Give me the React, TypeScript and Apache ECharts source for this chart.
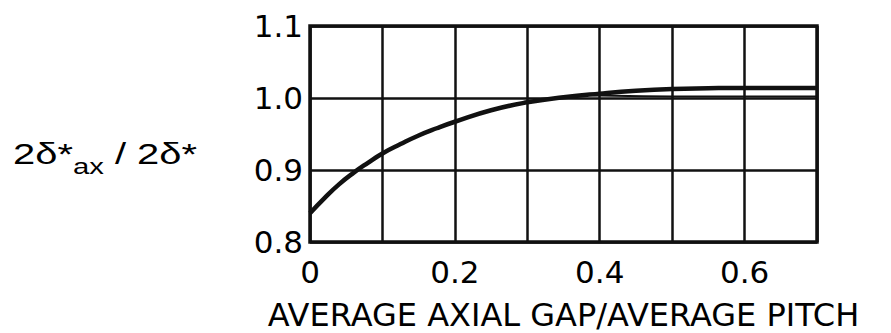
import React, { useEffect, useRef } from "react";
import * as echarts from "echarts";

const xTicks = [0, 0.1, 0.2, 0.3, 0.4, 0.5, 0.6, 0.7];
const yTicks = [0.8, 0.9, 1.0, 1.1];

const mainX = [0, 0.02, 0.04, 0.06, 0.08, 0.1, 0.125, 0.15, 0.175, 0.2, 0.25, 0.3, 0.35, 0.4, 0.45, 0.5, 0.55, 0.6, 0.65, 0.7];
const mainY = [0.84, 0.861, 0.88, 0.896, 0.91, 0.923, 0.936, 0.948, 0.958, 0.967, 0.983, 0.994, 1.001, 1.006, 1.01, 1.0125, 1.0135, 1.014, 1.014, 1.014];

const thinX = [0.38, 0.42, 0.5, 0.6, 0.7];
const thinY = [1.005, 1.003, 1.002, 1.002, 1.002];

const xTitle = "AVERAGE AXIAL GAP/AVERAGE PITCH";

export default function App() {
  const ref = useRef<HTMLDivElement>(null);
  useEffect(() => {
    if (!ref.current) return;
    const chart = echarts.init(ref.current, null, { renderer: "svg" });
    const ink = "#111";
    chart.setOption({
      animation: false,
      backgroundColor: "#fff",
      grid: {
        left: 310,
        right: 74,
        top: 26,
        bottom: 91,
        show: true,
        borderColor: ink,
        borderWidth: 3.5,
        backgroundColor: "transparent",
        containLabel: false,
        outerBoundsMode: "none",
      },
      xAxis: {
        type: "value",
        min: xTicks[0],
        max: xTicks[xTicks.length - 1],
        interval: 0.1,
        axisLine: { show: false },
        axisTick: { show: false },
        splitLine: { show: true, lineStyle: { color: ink, width: 2.5 } },
        axisLabel: {
          margin: 14,
          color: "#000",
          fontFamily: "DejaVu Sans",
          fontSize: 31,
          formatter: (v: number) => {
            const k = Math.round(v * 10);
            if (k % 2 !== 0) return "";
            return k === 0 ? "0" : (k / 10).toFixed(1);
          },
        },
        name: xTitle,
        nameLocation: "middle",
        nameGap: 60,
        nameTextStyle: {
          color: "#000",
          fontFamily: "DejaVu Sans",
          fontSize: 32,
          lineHeight: 26,
          verticalAlign: "top",
        },
      },
      yAxis: {
        type: "value",
        min: yTicks[0],
        max: yTicks[yTicks.length - 1],
        interval: 0.1,
        axisLine: { show: false },
        axisTick: { show: false },
        splitLine: { show: true, lineStyle: { color: ink, width: 2.5 } },
        axisLabel: {
          margin: 7,
          color: "#000",
          fontFamily: "DejaVu Sans",
          fontSize: 31,
          formatter: (v: number) => v.toFixed(1),
        },
      },
      graphic: [
        {
          type: "text",
          left: 13,
          top: 138,
          scaleX: 1.33,
          style: {
            text: "{a|2δ*}{b|ax}{a| / 2δ*}",
            fill: "#000",
            rich: {
              a: { fontFamily: "Liberation Sans", fontSize: 30, fill: "#000", verticalAlign: "bottom", padding: [0, 0, 9, 0] },
              b: { fontFamily: "Liberation Sans", fontSize: 22, fill: "#000", verticalAlign: "bottom" },
            },
          },
        },
      ],
      series: [
        {
          type: "line",
          data: mainX.map((x, i) => [x, mainY[i]]),
          smooth: 0.5,
          showSymbol: false,
          symbol: "none",
          lineStyle: { color: ink, width: 4.5 },
          z: 5,
        },
        {
          type: "line",
          data: thinX.map((x, i) => [x, thinY[i]]),
          smooth: 0.5,
          showSymbol: false,
          symbol: "none",
          lineStyle: { color: ink, width: 2 },
          z: 4,
        },
      ],
    });
    return () => chart.dispose();
  }, []);
  return (
    <div
      ref={ref}
      style={{ position: "fixed", left: 0, top: 0, width: 891, height: 333, background: "#fff" }}
    />
  );
}
